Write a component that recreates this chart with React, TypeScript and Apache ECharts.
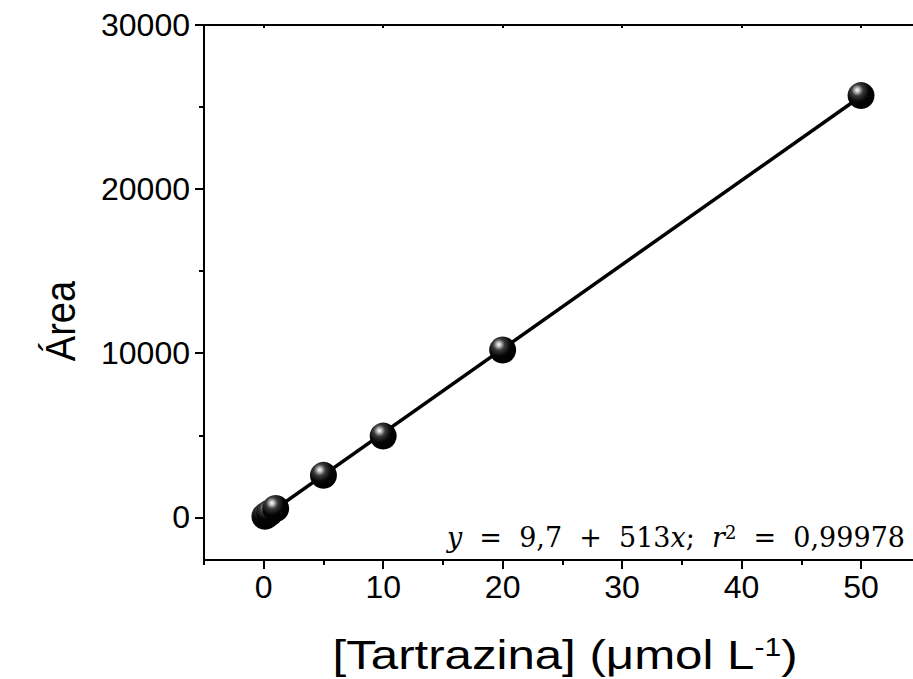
import React, { useEffect, useRef } from "react";
import * as echarts from "echarts";

// Calibration data: tartrazine concentration (µmol L-1) vs. peak area
const concentration = [0.1, 0.25, 0.5, 1, 5, 10, 20, 50];
const peakArea = [60, 140, 270, 540, 2560, 4950, 10200, 25700];

// Linear fit reported on the chart
const fitIntercept = 9.7;
const fitSlope = 513;
const fitR2 = "0,99978";

const xMajorTicks = [0, 10, 20, 30, 40, 50];
const xMinorTicks = [-5, 5, 15, 25, 35, 45];
const yMajorTicks = [0, 10000, 20000, 30000];
const yMinorTicks = [5000, 15000, 25000];

const X_MIN = -5;
const X_MAX = 54.35;
const Y_MIN = -2600;
const Y_MAX = 30000;

const SANS = "'Liberation Sans', Arial, sans-serif";
const MATH = "'DejaVu Serif', 'Liberation Serif', serif";

export default function App() {
  const ref = useRef<HTMLDivElement>(null);

  useEffect(() => {
    if (!ref.current) return;
    const chart = echarts.init(ref.current, null, { renderer: "svg" });

    const fitStart = concentration[0];
    const fitEnd = concentration[concentration.length - 1];
    const fitLine = [
      [fitStart, fitIntercept + fitSlope * fitStart],
      [fitEnd, fitIntercept + fitSlope * fitEnd],
    ];

    const axisLine = { show: true, onZero: false, lineStyle: { color: "#000", width: 2 } };
    const tickStyle = { color: "#000", width: 2 };

    const ball = new echarts.graphic.RadialGradient(0.36, 0.3, 0.72, [
      { offset: 0, color: "#ffffff" },
      { offset: 0.1, color: "#c8c8c8" },
      { offset: 0.3, color: "#3a3a3a" },
      { offset: 0.6, color: "#050505" },
      { offset: 1, color: "#000" },
    ]);

    const gap = "  ";
    const eqText =
      `{i|y}${gap}=${gap}${String(fitIntercept).replace(".", ",")}${gap}+${gap}${fitSlope}{i|x};` +
      `${gap}{i|r}{sup|2}${gap}=${gap}${fitR2}`;

    chart.setOption({
      animation: false,
      backgroundColor: "#fff",
      grid: { left: 204, right: 0, top: 25, bottom: 119, containLabel: false },
      xAxis: [
        {
          type: "value",
          position: "bottom",
          min: X_MIN,
          max: X_MAX,
          axisLine,
          axisTick: { show: true, customValues: xMajorTicks, length: 9, lineStyle: tickStyle },
          axisLabel: {
            customValues: xMajorTicks,
            fontSize: 32,
            fontFamily: SANS,
            color: "#000",
            margin: 11,
            formatter: (v: number) => String(v),
          },
          splitLine: { show: false },
        },
        {
          type: "value",
          position: "bottom",
          min: X_MIN,
          max: X_MAX,
          axisLine: { show: false, onZero: false },
          axisTick: { show: true, customValues: xMinorTicks, length: 5, lineStyle: tickStyle },
          axisLabel: { show: false },
          splitLine: { show: false },
        },
        {
          type: "value",
          position: "top",
          min: X_MIN,
          max: X_MAX,
          axisLine,
          axisTick: { show: true, inside: true, customValues: xMajorTicks, length: 3, lineStyle: tickStyle },
          axisLabel: { show: false },
          splitLine: { show: false },
        },
      ],
      yAxis: [
        {
          type: "value",
          position: "left",
          min: Y_MIN,
          max: Y_MAX,
          axisLine,
          axisTick: { show: true, customValues: yMajorTicks, length: 9, lineStyle: tickStyle },
          axisLabel: {
            customValues: yMajorTicks,
            fontSize: 32,
            fontFamily: SANS,
            color: "#000",
            margin: 14,
            formatter: (v: number) => String(v),
          },
          splitLine: { show: false },
        },
        {
          type: "value",
          position: "left",
          min: Y_MIN,
          max: Y_MAX,
          axisLine: { show: false, onZero: false },
          axisTick: { show: true, customValues: yMinorTicks, length: 5, lineStyle: tickStyle },
          axisLabel: { show: false },
          splitLine: { show: false },
        },
      ],
      series: [
        {
          type: "line",
          xAxisIndex: 0,
          yAxisIndex: 0,
          data: fitLine,
          symbol: "none",
          lineStyle: { color: "#000", width: 3.5 },
          z: 2,
        },
        {
          type: "scatter",
          xAxisIndex: 0,
          yAxisIndex: 0,
          data: concentration.map((c, i) => [c, peakArea[i]]),
          symbol: "circle",
          symbolSize: 27,
          itemStyle: { color: ball, opacity: 1 },
          z: 3,
        },
      ],
      graphic: [
        {
          type: "text",
          x: 60,
          y: 321,
          rotation: Math.PI / 2,
          scaleY: 1.1,
          style: {
            text: "Área",
            fontSize: 38,
            fontFamily: SANS,
            fill: "#000",
            align: "center",
            verticalAlign: "middle",
          },
        },
        {
          type: "text",
          x: 565,
          y: 655,
          scaleX: 1.2,
          style: {
            text: "[Tartrazina] (μmol L{sup|-1})",
            fontSize: 41,
            fontFamily: SANS,
            fill: "#000",
            align: "center",
            verticalAlign: "middle",
            rich: {
              sup: { fontSize: 25, fontFamily: SANS, fill: "#000", verticalAlign: "top" },
            },
          },
        },
        {
          type: "text",
          x: 905,
          y: 537,
          style: {
            text: eqText,
            fontSize: 27,
            fontFamily: MATH,
            fill: "#000",
            align: "right",
            verticalAlign: "middle",
            rich: {
              i: { fontSize: 27, fontFamily: MATH, fontStyle: "italic", fill: "#000" },
              sup: { fontSize: 18, fontFamily: MATH, fill: "#000", verticalAlign: "top" },
            },
          },
        },
      ],
    });

    return () => chart.dispose();
  }, []);

  return (
    <div
      ref={ref}
      style={{ position: "fixed", left: 0, top: 0, width: 913, height: 679, background: "#fff" }}
    />
  );
}
